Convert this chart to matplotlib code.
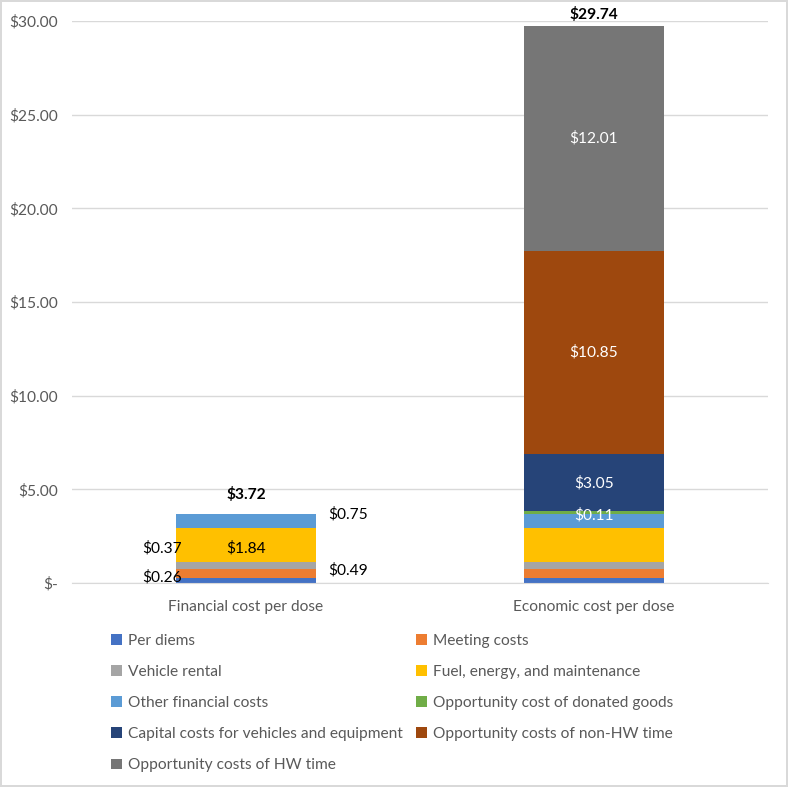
import matplotlib.pyplot as plt
from matplotlib.patches import Patch

# ---- data ----
categories = ["Financial cost per dose", "Economic cost per dose"]
components = [
    "Per diems",
    "Meeting costs",
    "Vehicle rental",
    "Fuel, energy, and maintenance",
    "Other financial costs",
    "Opportunity cost of donated goods",
    "Capital costs for vehicles and equipment",
    "Opportunity costs of non-HW time",
    "Opportunity costs of HW time",
]
financial = [0.26, 0.49, 0.37, 1.84, 0.75, 0.0, 0.0, 0.0, 0.0]
economic = [0.26, 0.49, 0.37, 1.84, 0.75, 0.11, 3.05, 10.85, 12.01]
totals = [3.72, 29.74]

colors = ["#4472C4", "#ED7D31", "#A5A5A5", "#FFC000", "#5B9BD5",
          "#70AD47", "#264478", "#9E480E", "#767676"]

# label placement for the financial bar (Excel labels were moved by hand)
# (ha, x offset from bar centre, y offset from segment centre in data units)
fin_label_pos = [
    ("right", -0.184, 0.19),
    ("left", 0.236, 0.18),
    ("right", -0.184, 0.93),
    ("center", 0.0, -0.17),
    ("left", 0.236, 0.34),
]

plt.rcParams["font.family"] = ["Lato", "DejaVu Sans"]
txt_gray = "#595959"
fs = 11.2

fig = plt.figure(figsize=(7.88, 7.87), dpi=100)
ax = fig.add_axes([0.0914, 0.2592, 0.8832, 0.7141])

width = 0.4
series = [financial, economic]
for xi, vals in enumerate(series):
    bottom = 0.0
    for i, v in enumerate(vals):
        if v > 0:
            ax.bar(xi, v, width, bottom=bottom, color=colors[i], zorder=2)
        vals_center = bottom + v / 2
        if xi == 0 and i < len(fin_label_pos):
            ha, dx, dy = fin_label_pos[i]
            ax.text(xi + dx, vals_center + dy, f"${v:.2f}", ha=ha, va="center",
                    fontsize=fs, color="black", zorder=3)
        elif xi == 1 and i >= 5:
            ax.text(xi, vals_center - (0.14 if i == 5 else 0), f"${v:.2f}",
                    ha="center", va="center", fontsize=fs, color="white",
                    zorder=3)
        bottom += v
    ax.annotate(f"${totals[xi]:.2f}", (xi, bottom), xytext=(0, 3 if xi else 8),
                textcoords="offset points", ha="center", va="bottom",
                fontsize=fs, fontweight="bold", color="black")

ax.set_xlim(-0.5, 1.5)
ax.set_ylim(0, 30)
ax.set_yticks([0, 5, 10, 15, 20, 25, 30])
ax.set_yticklabels(["$-", "$5.00", "$10.00", "$15.00", "$20.00", "$25.00",
                    "$30.00"])
ax.set_xticks([0, 1])
ax.set_xticklabels(categories)
ax.tick_params(axis="both", length=0, colors=txt_gray, labelsize=fs)
ax.tick_params(axis="y", pad=10)
ax.tick_params(axis="x", pad=12)
ax.grid(axis="y", color="#d9d9d9", linewidth=1, zorder=0)
ax.set_axisbelow(True)
for s in ["top", "right", "left"]:
    ax.spines[s].set_visible(False)
ax.spines["bottom"].set_color("#d9d9d9")

# legend, two columns laid out row-wise like the original
handles = [Patch(facecolor=c) for c in colors]
leg_kw = dict(frameon=False, fontsize=fs, labelcolor=txt_gray,
              handlelength=0.7, handleheight=0.7, handletextpad=0.4,
              labelspacing=1.1, borderaxespad=0, borderpad=0)
left_idx = [0, 2, 4, 6, 8]
right_idx = [1, 3, 5, 7]
fig.legend([handles[i] for i in left_idx], [components[i] for i in left_idx],
           loc="upper left", bbox_to_anchor=(111 / 788, 1 - 634 / 787), **leg_kw)
fig.legend([handles[i] for i in right_idx], [components[i] for i in right_idx],
           loc="upper left", bbox_to_anchor=(416 / 788, 1 - 634 / 787), **leg_kw)

fig.patch.set_edgecolor("#d9d9d9")
fig.patch.set_linewidth(1.5)

fig.savefig("out.png", dpi=100)
